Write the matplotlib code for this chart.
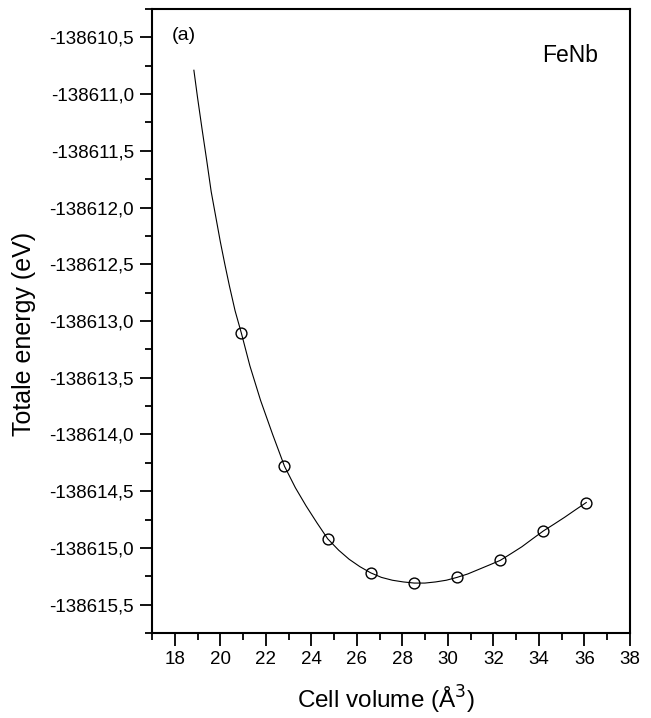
import matplotlib
matplotlib.use("Agg")
import matplotlib.pyplot as plt
from matplotlib.ticker import MultipleLocator, FuncFormatter

plt.rcParams['font.family'] = ['Liberation Sans', 'DejaVu Sans']

# calculated points
volume = [20.93, 22.82, 24.72, 26.61, 28.52, 30.40, 32.30, 34.20, 36.08]
energy = [-138613.11, -138614.28, -138614.92, -138615.22, -138615.31,
          -138615.26, -138615.11, -138614.85, -138614.60]

# fitted curve
fit_volume = [18.84, 19.0, 19.2, 19.4, 19.6, 19.8, 20.0, 20.2, 20.4, 20.65,
              20.93, 21.3, 21.77, 22.3, 22.82, 23.3, 23.77, 24.25, 24.72,
              25.2, 25.66, 26.13, 26.61, 27.08, 27.56, 28.04, 28.52, 28.99,
              29.46, 29.93, 30.40, 30.87, 31.35, 31.83, 32.30, 32.78, 33.25,
              33.72, 34.20, 34.67, 35.13, 35.60, 36.08]
fit_energy = [-138610.79, -138611.03, -138611.31, -138611.58, -138611.86,
              -138612.08, -138612.30, -138612.50, -138612.69, -138612.91,
              -138613.11, -138613.395, -138613.70, -138614.00, -138614.28,
              -138614.47, -138614.63, -138614.78, -138614.92, -138615.02,
              -138615.10, -138615.165, -138615.22, -138615.26, -138615.285,
              -138615.30, -138615.31, -138615.31, -138615.30, -138615.285,
              -138615.26, -138615.23, -138615.19, -138615.15, -138615.11,
              -138615.05, -138614.99, -138614.92, -138614.85, -138614.79,
              -138614.73, -138614.665, -138614.60]

fig = plt.figure(figsize=(6.51, 7.18), dpi=100)
ax = fig.add_axes([0.2335, 0.1184, 0.7342, 0.8691])

ax.plot(fit_volume, fit_energy, color='black', linewidth=0.8)
ax.plot(volume, energy, 'o', markersize=7.8, markerfacecolor='none',
        markeredgecolor='black', markeredgewidth=1.0)

ax.set_xlim(17, 38)
ax.set_ylim(-138615.75, -138610.25)
ax.xaxis.set_major_locator(MultipleLocator(2))
ax.xaxis.set_minor_locator(MultipleLocator(1))
ax.yaxis.set_major_locator(MultipleLocator(0.5))
ax.yaxis.set_minor_locator(MultipleLocator(0.25))
ax.yaxis.set_major_formatter(FuncFormatter(lambda v, p: f"{v:.1f}".replace('.', ',')))

for s in ax.spines.values():
    s.set_linewidth(1.5)
ax.tick_params(which='both', direction='out', top=False, right=False, width=1.3)
ax.tick_params(which='major', length=9, labelsize=13.5, pad=4)
ax.tick_params(which='minor', length=5)

ax.set_xlabel("Cell volume (Å$^3$)", fontsize=17.5, va='center')
ax.xaxis.set_label_coords(0.49, -0.107)
ax.set_ylabel("Totale energy (eV)", fontsize=18, va='center')
ax.yaxis.set_label_coords(-0.268, 0.479)
ax.text(0.042, 0.958, "(a)", transform=ax.transAxes, fontsize=14, va='center')
ax.text(0.816, 0.926, "FeNb", transform=ax.transAxes, fontsize=16.5, va='center')

fig.savefig("out.png", dpi=100)
